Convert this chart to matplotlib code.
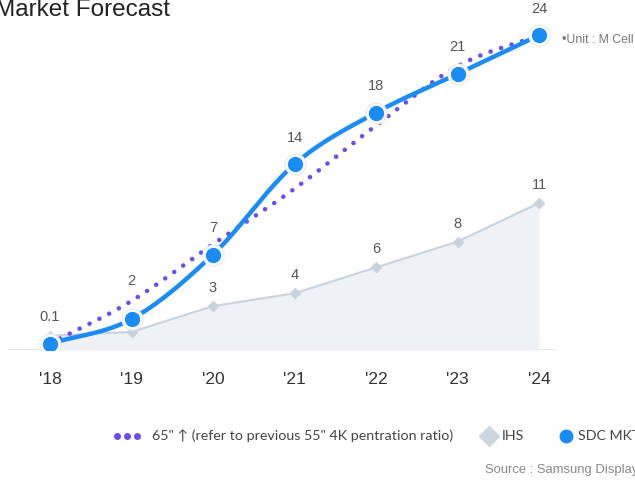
import numpy as np
import matplotlib
matplotlib.use("Agg")
import matplotlib.pyplot as plt
from matplotlib.lines import Line2D

# Data
years = ["'18", "'19", "'20", "'21", "'22", "'23", "'24"]
sdc_mkt = [0.1, 2, 7, 14, 18, 21, 24]
ihs = [0.7, 1.0, 3, 4, 6, 8, 11]
ihs_labels = ["", "", "3", "4", "6", "8", "11"]
sdc_labels = ["0.1", "2", "7", "14", "18", "21", "24"]
ratio_65 = [0.1, 3.4, 7.8, 12.1, 17, 21.6, 24]

BLUE = "#1a8cf5"
PURPLE = "#6a4cf0"
GREY_LINE = "#c9d3dd"
GREY_FILL = "#eef1f6"
TEXT = "#555555"

plt.rcParams["font.family"] = ["Liberation Sans", "DejaVu Sans"]


def smooth(x, y, n=30):
    """Catmull-Rom curve through the given points."""
    x = np.asarray(x, float)
    y = np.asarray(y, float)
    px = np.concatenate([[2 * x[0] - x[1]], x, [2 * x[-1] - x[-2]]])
    py = np.concatenate([[2 * y[0] - y[1]], y, [2 * y[-1] - y[-2]]])
    xs, ys = [], []
    t = np.linspace(0, 1, n, endpoint=False)
    for i in range(1, len(px) - 2):
        p0, p1, p2, p3 = (np.array([px[j], py[j]]) for j in range(i - 1, i + 3))
        tt = t[:, None]
        pts = 0.5 * ((2 * p1) + (-p0 + p2) * tt + (2 * p0 - 5 * p1 + 4 * p2 - p3) * tt ** 2
                     + (-p0 + 3 * p1 - 3 * p2 + p3) * tt ** 3)
        xs.append(pts[:, 0])
        ys.append(pts[:, 1])
    xs.append([x[-1]])
    ys.append([y[-1]])
    return np.concatenate(xs), np.concatenate(ys)


W, H = 635, 483
fig = plt.figure(figsize=(W / 100, H / 100), dpi=100)
fig.patch.set_facecolor("white")

# plot area: left 8px, right 555px, baseline 350px from the top
ax = fig.add_axes([8 / W, (H - 350) / H, (555 - 8) / W, 350 / H])
ax.set_facecolor("none")
x = np.arange(len(years))
BASE = -0.4
ax.set_xlim((8 - 50) / 81.5, (555 - 50) / 81.5)
ax.set_ylim(BASE, BASE + 350 / 12.9)
ax.axis("off")
ax.axhline(BASE, color="#dde2e8", lw=1.2, zorder=1)

# IHS area
ax.fill_between(x, ihs, BASE, color=GREY_FILL, zorder=1, lw=0)
ax.plot(x, ihs, color=GREY_LINE, lw=1.5, zorder=2)
ax.plot(x, ihs, ls="none", marker="D", ms=5.5, color=GREY_LINE, zorder=3)

# 65" dotted line
sx, sy = smooth(x, ratio_65)
ax.plot(sx, sy, color=PURPLE, lw=3.3, ls=(0, (0.01, 2.4)), dash_capstyle="round", zorder=4)

# SDC MKT line
sx, sy = smooth(x, sdc_mkt)
ax.plot(sx, sy, color=BLUE, lw=3.2, zorder=5, solid_capstyle="round")
ax.plot(x, sdc_mkt, ls="none", marker="o", ms=15, mfc="white", mec="#e8edf2", mew=1, zorder=6)
ax.plot(x, sdc_mkt, ls="none", marker="o", ms=10, color=BLUE, zorder=7)

# value labels; the '19 label is lifted clear of the dotted line
sdc_offsets = [14, 22, 14, 14, 14, 14, 14]
for xi, v, lab, off in zip(x, sdc_mkt, sdc_labels, sdc_offsets):
    ax.annotate(lab, (xi, v), xytext=(0, off), textcoords="offset points",
                ha="center", va="bottom", fontsize=10.5, color=TEXT, zorder=8)
for xi, v, lab in zip(x, ihs, ihs_labels):
    if lab:
        ax.annotate(lab, (xi, v), xytext=(0, 8), textcoords="offset points",
                    ha="center", va="bottom", fontsize=10.5, color=TEXT, zorder=8)

# year labels
for xi, lab in zip(x, years):
    ax.annotate(lab, (xi, BASE), xytext=(0, -21), textcoords="offset points",
                ha="center", va="center", fontsize=12.5, color="#333333",
                annotation_clip=False)

# title and notes
fig.text(-5 / W, 1 - 10 / H, "Market Forecast", fontsize=17.5, color="#222222",
         ha="left", va="center")
fig.text(562 / W, 1 - 40 / H, "\u2022Unit : M Cell", fontsize=8.8, color="#777777",
         ha="left", va="center")
fig.text(485 / W, 1 - 470 / H, "Source : Samsung Display", fontsize=9.4, color="#888888",
         ha="left", va="center")

# legend row
ly = 1 - 436 / H
for dx in (117, 127, 137):
    fig.add_artist(Line2D([dx / W], [ly], marker="o", ms=4, color=PURPLE, ls="none"))
fig.text(152 / W, ly, "65\" \u2191 (refer to previous 55\" 4K pentration ratio)",
         fontsize=10.3, color="#444444", ha="left", va="center",
         family=["Lato", "DejaVu Sans"])
fig.add_artist(Line2D([489 / W], [ly], marker="D", ms=10, color="#cdd6df", ls="none"))
fig.text(502 / W, ly, "IHS", fontsize=10.3, color="#444444", ha="left", va="center",
         family=["Lato", "DejaVu Sans"])
fig.add_artist(Line2D([566 / W], [ly], marker="o", ms=9, color=BLUE, ls="none"))
fig.text(578 / W, ly, "SDC MKT", fontsize=10.3, color="#444444", ha="left", va="center",
         family=["Lato", "DejaVu Sans"])

fig.savefig("out.png", dpi=100, facecolor="white")
